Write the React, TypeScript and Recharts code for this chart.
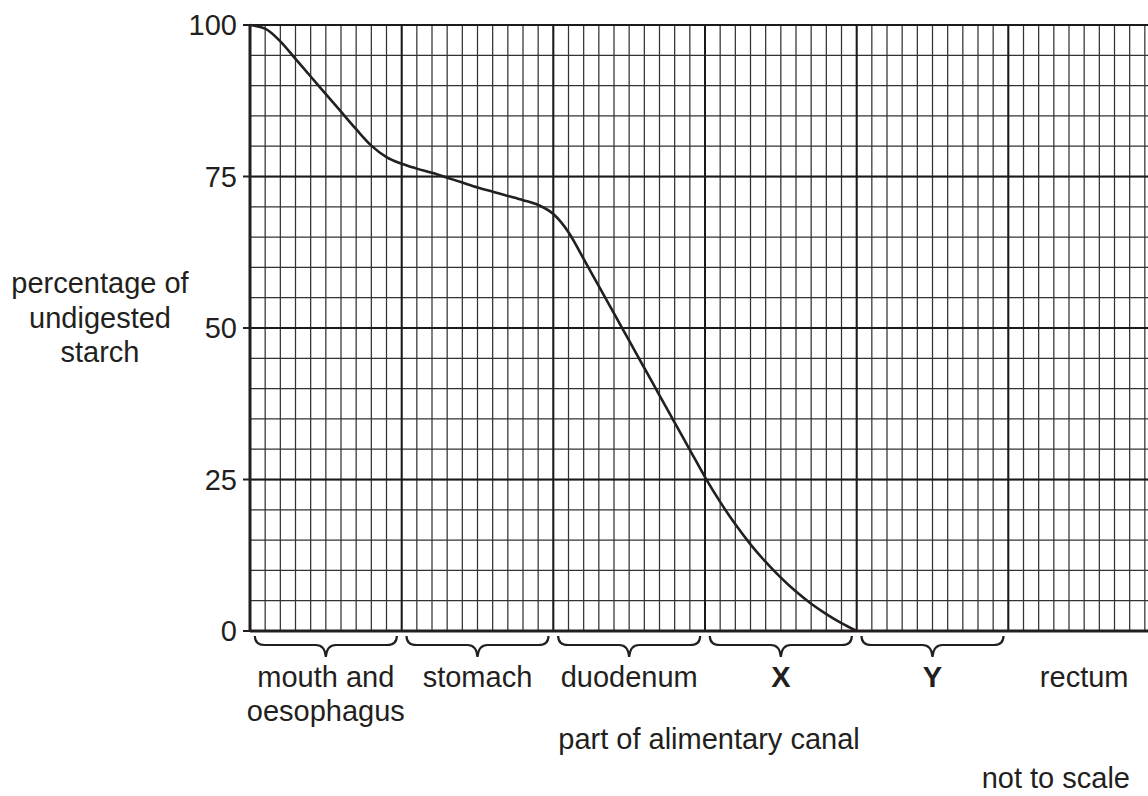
import React from 'react';
import { LineChart, Line, XAxis, YAxis, CartesianGrid } from 'recharts';

// position along the canal, in small grid squares (10 per section)
const position = [
  0, 1, 2, 3, 4, 5, 6, 7, 8, 9, 10, 11, 12, 13, 14, 15, 16, 17, 18, 19, 20,
  21, 22, 23, 24, 25, 26, 27, 28, 29, 30, 31, 32, 33, 34, 35, 36, 37, 38, 39, 40,
];
const undigested = [
  100, 99.4, 97.3, 94.4, 91.5, 88.6, 85.7, 82.8, 80.1, 78.2, 77.1, 76.3, 75.6, 74.8, 74.0,
  73.2, 72.5, 71.8, 71.1, 70.3, 68.8, 65.8, 61.4, 56.9, 52.4, 47.9, 43.4, 38.9, 34.4, 29.9,
  25.4, 21.3, 17.6, 14.3, 11.4, 8.8, 6.5, 4.5, 2.8, 1.3, 0,
];

const sectionLabels = [['mouth and', 'oesophagus'], ['stomach'], ['duodenum'], ['X'], ['Y'], ['rectum']];
const sectionBold = [false, false, false, true, true, false];
const sectionBrace = [true, true, true, true, true, false];
const sectionCentres = [5, 15, 25, 35, 45, 55];
const yTicks = [0, 25, 50, 75, 100];

const minorX = Array.from({ length: 61 }, (_, i) => i);
const minorY = Array.from({ length: 41 }, (_, i) => i * 2.5);
const majorX = [0, 10, 20, 30, 40, 50, 60];

const data = position.map((p, i) => ({ pos: p, value: undigested[i] }));

const FONT = '"Liberation Sans", Arial, Helvetica, sans-serif';
const INK = '#231f20';

const SectionTick = (props: any) => {
  const { x, y, index } = props;
  const lines = sectionLabels[index] || [];
  const w = 71;
  const brace = `M ${x - w} ${y + 5} Q ${x - w} ${y + 14} ${x - w + 10} ${y + 14} L ${x - 10} ${y + 14} Q ${x - 1} ${y + 14} ${x} ${y + 26} Q ${x + 1} ${y + 14} ${x + 10} ${y + 14} L ${x + w - 10} ${y + 14} Q ${x + w} ${y + 14} ${x + w} ${y + 5}`;
  return (
    <g>
      {sectionBrace[index] && <path d={brace} fill="none" stroke={INK} strokeWidth={2.2} />}
      {lines.map((t, i) => (
        <text
          key={i}
          x={x}
          y={y + 56 + i * 34}
          textAnchor="middle"
          fill={INK}
          fontSize={29}
          fontWeight={sectionBold[index] ? 'bold' : 'normal'}
          fontFamily={FONT}
        >
          {t}
        </text>
      ))}
    </g>
  );
};

const textStyle: React.CSSProperties = {
  position: 'absolute',
  fontFamily: FONT,
  fontSize: 29,
  lineHeight: '34.5px',
  color: INK,
  whiteSpace: 'nowrap',
};

export default function App() {
  return (
    <div style={{ position: 'absolute', left: 0, top: 0, width: 1148, height: 796, overflow: 'hidden', background: '#fff' }}>
      <LineChart width={1168} height={796} data={data} margin={{ top: 25, right: 8, left: 190, bottom: 35 }}>
        <CartesianGrid
          horizontalValues={minorY}
          verticalValues={minorX}
          stroke="#333"
          strokeWidth={1.25}
        />
        <CartesianGrid
          horizontalValues={yTicks}
          verticalValues={majorX}
          stroke="#1a1a1a"
          strokeWidth={2}
        />
        <XAxis
          dataKey="pos"
          type="number"
          domain={[0, 60]}
          ticks={sectionCentres}
          interval={0}
          height={130}
          tickLine={false}
          tickSize={0}
          tickMargin={0}
          axisLine={{ stroke: INK, strokeWidth: 3 }}
          tick={<SectionTick />}
        />
        <YAxis
          type="number"
          domain={[0, 100]}
          ticks={yTicks}
          width={60}
          tickSize={7}
          tickMargin={6}
          tickLine={{ stroke: INK, strokeWidth: 2 }}
          axisLine={{ stroke: INK, strokeWidth: 3 }}
          tick={{ fill: INK, fontSize: 29, fontFamily: FONT }}
        />
        <Line
          type="monotone"
          dataKey="value"
          stroke={INK}
          strokeWidth={2.6}
          dot={false}
          isAnimationActive={false}
        />
      </LineChart>
      <div style={{ ...textStyle, left: 0, top: 266, width: 200, textAlign: 'center' }}>
        percentage of
        <br />
        undigested
        <br />
        starch
      </div>
      <div style={{ ...textStyle, left: 509, top: 722, width: 400, textAlign: 'center' }}>
        part of alimentary canal
      </div>
      <div style={{ ...textStyle, lineHeight: '29px', left: 930, top: 764, width: 200, textAlign: 'right' }}>
        not to scale
      </div>
    </div>
  );
}
